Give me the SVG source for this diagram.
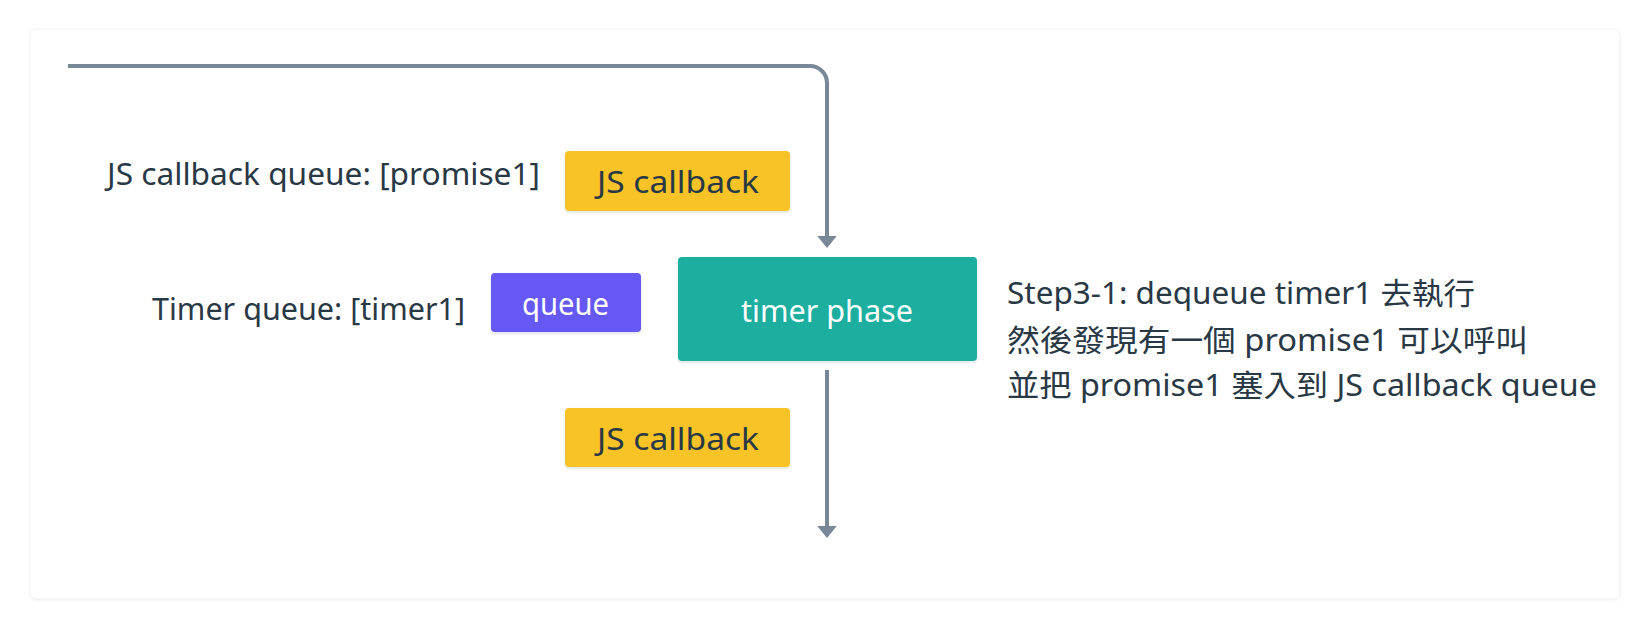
<svg xmlns="http://www.w3.org/2000/svg" width="1651" height="630" viewBox="0 0 1651 630">
  <style>
    text { font-family: "Noto Sans", "Noto Sans CJK TC", sans-serif; font-size: 30px; fill: #293845; }
    .lbl { text-anchor: middle; }
    .light { fill: #ffffff; }
    .conn { fill: none; stroke: #788896; stroke-width: 4; }
    .box { filter: url(#sh); }
  </style>
  <defs>
    <filter id="sh" x="-10%" y="-10%" width="120%" height="130%">
      <feDropShadow dx="0" dy="1.5" stdDeviation="1.5" flood-color="#000000" flood-opacity="0.12"/>
    </filter>
    <filter id="psh" x="-2%" y="-2%" width="104%" height="106%">
      <feDropShadow dx="0" dy="1" stdDeviation="1.5" flood-color="#000000" flood-opacity="0.05"/>
    </filter>
    <marker id="ah" markerUnits="userSpaceOnUse" markerWidth="12" markerHeight="20" refX="1" refY="9" orient="auto" viewBox="0 0 11 18">
      <path d="M0,0 L11,9 L0,18 Z" fill="#788896"/>
    </marker>
  </defs>

  <rect x="30" y="29" width="1590" height="570" rx="6" fill="#ffffff" stroke="#f0f0f0" stroke-width="1" filter="url(#psh)"/>

  <g id="connectors">
    <path class="conn" d="M68,66 H810 A17,17 0 0 1 827,83 V237" marker-end="url(#ah)"/>
    <path class="conn" d="M827,370 V527" marker-end="url(#ah)"/>
  </g>

  <g id="label-js-queue">
    <text x="107" y="185" textLength="433" lengthAdjust="spacingAndGlyphs">JS callback queue: [promise1]</text>
  </g>

  <g id="label-timer-queue">
    <text x="152" y="320" textLength="313" lengthAdjust="spacingAndGlyphs">Timer queue: [timer1]</text>
  </g>

  <g id="js-callback-1">
    <rect class="box" x="565" y="151" width="225" height="60" rx="4" fill="#F7C325"/>
    <text x="597" y="193" textLength="162" lengthAdjust="spacingAndGlyphs">JS callback</text>
  </g>

  <g id="queue">
    <rect class="box" x="491" y="273" width="150" height="59" rx="4" fill="#6558F5"/>
    <text class="light" x="522" y="315" textLength="87" lengthAdjust="spacingAndGlyphs">queue</text>
  </g>

  <g id="timer-phase">
    <rect class="box" x="678" y="257" width="299" height="104" rx="4" fill="#1AAE9F"/>
    <text class="light" x="741" y="322" textLength="172" lengthAdjust="spacingAndGlyphs">timer phase</text>
  </g>

  <g id="js-callback-2">
    <rect class="box" x="565" y="408" width="225" height="59" rx="4" fill="#F7C325"/>
    <text x="597" y="450" textLength="162" lengthAdjust="spacingAndGlyphs">JS callback</text>
  </g>

  <g id="step-note">
    <text x="1007" y="304" textLength="468" lengthAdjust="spacingAndGlyphs">Step3-1: dequeue timer1 去執行</text>
    <text x="1007" y="351" textLength="521" lengthAdjust="spacingAndGlyphs">然後發現有一個 promise1 可以呼叫</text>
    <text x="1007" y="396" textLength="590" lengthAdjust="spacingAndGlyphs">並把 promise1 塞入到 JS callback queue</text>
  </g>
</svg>
